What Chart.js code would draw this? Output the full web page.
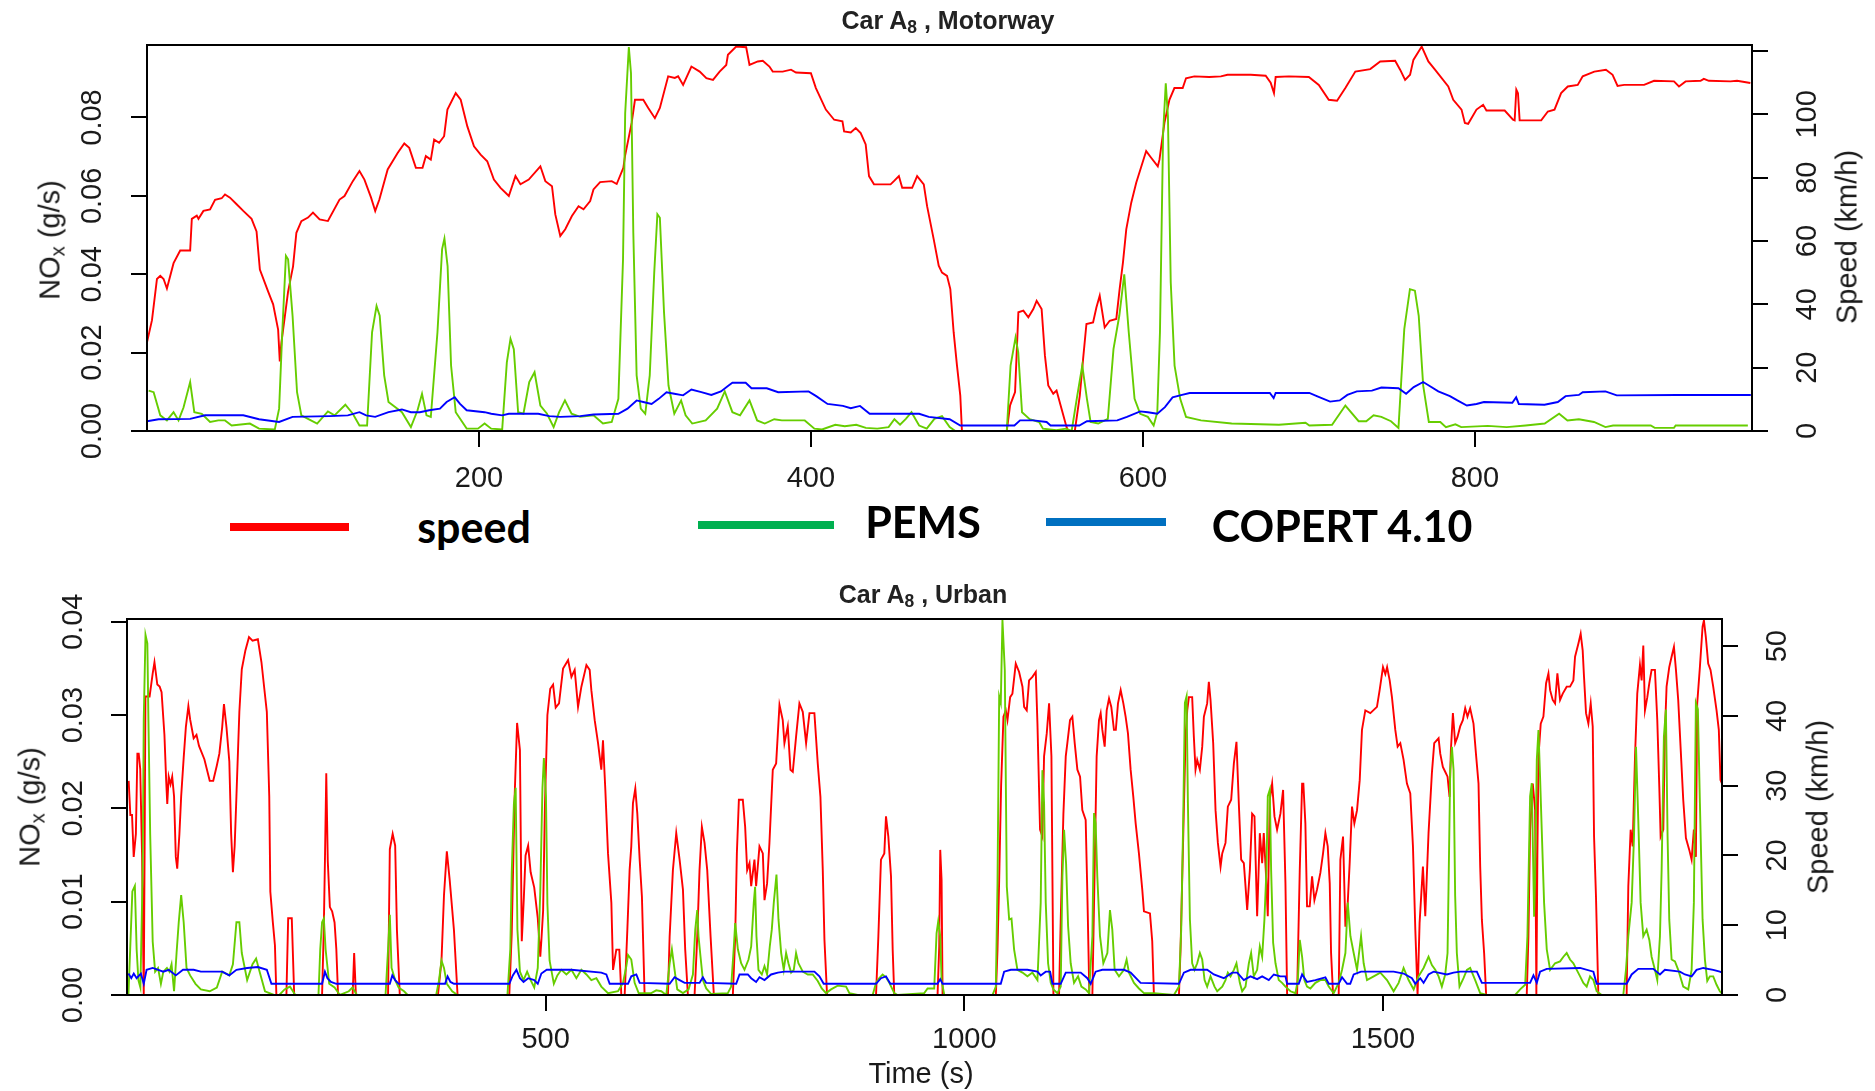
<!DOCTYPE html>
<html>
<head>
<meta charset="utf-8">
<script src="https://cdn.jsdelivr.net/npm/chart.js@4.4.0/dist/chart.umd.min.js"></script>
<style>
  body { margin: 0; background: #fff; width: 1875px; height: 1091px; overflow: hidden; position: relative; font-family: 'Liberation Sans', Arial, sans-serif; }
  canvas { position: absolute; left: 0; }
  #motorway { top: 0; }
  #urban { top: 560px; }
  .lbl { position: absolute; color: #1a1a1a; white-space: nowrap; line-height: 1; transform: translate(-50%, -50%); }
  .rot { transform: translate(-50%, -50%) rotate(-90deg); }
  .axis { font-size: 29px; }
  .title { font-size: 25px; font-weight: bold; color: #222; }
  sub { font-size: 0.7em; vertical-align: -0.25em; line-height: 0; }
  .key { position: absolute; height: 8px; }
  .keytext { position: absolute; font-family: Lato, sans-serif; font-weight: bold; font-size: 43px; line-height: 43px; color: #000; transform: translateX(-50%); }
</style>
</head>
<body>
<canvas id="motorway" width="1875" height="500"></canvas>
<canvas id="urban" width="1875" height="531"></canvas>

<div class="lbl title" style="left:948px;top:20px">Car A<sub>8</sub> , Motorway</div>
<div class="lbl axis rot" style="left:50px;top:240px">NO<sub>x</sub> (g/s)</div>
<div class="lbl axis rot" style="left:1847px;top:237px">Speed (km/h)</div>

<div class="key" style="left:230px;top:523px;width:119px;background:#ff0000"></div>
<div class="keytext" style="left:474px;top:505px">speed</div>
<div class="key" style="left:698px;top:521px;width:136px;background:#00b050"></div>
<div class="keytext" style="left:923px;top:500px">PEMS</div>
<div class="key" style="left:1046px;top:518px;width:120px;background:#0070c0"></div>
<div class="keytext" style="left:1342px;top:504px">COPERT 4.10</div>

<div class="lbl title" style="left:923px;top:594px">Car A<sub>8</sub> , Urban</div>
<div class="lbl axis rot" style="left:30px;top:807px">NO<sub>x</sub> (g/s)</div>
<div class="lbl axis rot" style="left:1818px;top:807px">Speed (km/h)</div>
<div class="lbl axis" style="left:921px;top:1073px">Time (s)</div>

<script>
// motorway trip: [time (s), value]
const motorwaySpeed = [[0,28],[3,35],[6,48],[8,49],[10,48],[12,45],[16,53],[20,57],[26,57],[27,67],[30,68],[31,67],[34,69.5],[38,70],[41,73],[45,73.5],[47,74.7],[50,73.7],[54,71.6],[58,69.5],[63,67],[66,63],[68,51],[73,44],[76,40],[79,32],[80,22],[81,28],[83,36],[85,44],[88,52],[90,62.6],[93,66.3],[97,67.4],[100,69],[104,66.8],[109,66.3],[116,73.1],[119,74.2],[124,78.9],[128,82.1],[131,79.4],[135,73.7],[137.5,69.5],[140,73.1],[145,82.6],[151,87.8],[155,90.8],[158,89.4],[162,83.1],[166,83.1],[168,86.8],[171,85.7],[173,92],[176,91],[179,93.1],[181,101.5],[186,106.7],[189,104.6],[193,96.2],[197,89.9],[201,87.3],[205,85.2],[209,79.4],[213,76.8],[218,74.2],[222,80.5],[225,77.9],[230,79.4],[237,83.6],[240,78.9],[244,77.3],[246,68.4],[249,61.6],[252,63.7],[256,67.9],[260,71],[263,70],[267,72.6],[269,76.3],[273,78.6],[280,78.9],[283,78],[287,83.1],[288,86.8],[292,97.3],[294,104.6],[299,104.6],[302,102],[306,98.8],[309,102],[314,112],[318,111.5],[320,112],[323,109.3],[328,115.1],[333,113.5],[337,111.4],[341,110.9],[345,113.5],[349,115.6],[350,118.8],[355,121.4],[361,121.2],[363,115.6],[368,116.7],[371,116.9],[375,115.1],[377,113.5],[383,113.5],[388,114.1],[391,113.2],[400,113],[403,108.3],[409,101.5],[414,98.3],[419,97.8],[420,94.6],[424,94.3],[427,95.7],[430,94.1],[433,90.5],[435,80.5],[438,77.9],[448,77.9],[450,78.9],[453,80.5],[455,76.8],[461,76.8],[464,80.5],[468,77.9],[470,71],[474,60.5],[477,52.2],[479,50],[482,49],[484,44.8],[486,31.2],[488,20.7],[490,11.2],[491,0],[518,0],[520,8.1],[523,12.3],[525,37.5],[528,38],[531,35.9],[534,38.5],[536,41.1],[539,38.5],[541,23.8],[543,14.4],[546,11.8],[548,12.8],[551,7],[554,1.3],[555,0],[559,0],[562,11.2],[564,22.8],[566,33.8],[570,34.3],[572,39],[574,42.7],[577,32.7],[580,34.8],[584,35.4],[586,44.8],[588,53.2],[590,63.7],[593,72.1],[596,78.4],[602,88.4],[605,86.3],[609,83.6],[610,85.7],[613,97.3],[616,104.6],[619,108.3],[624,108.3],[626,111.4],[631,112],[640,111.8],[647,112],[651,112.5],[665,112.5],[674,112.2],[677,110],[679,106.7],[680,111.8],[688,112],[700,111.8],[706,109.3],[712,104.6],[717,104.3],[722,108.3],[728,113.5],[737,114.3],[743,116.7],[752,116.9],[755,114.1],[758,110.9],[761,112.5],[763,117.2],[768,121.4],[772,116.7],[776,114.1],[784,108.8],[787,104.6],[792,101.5],[794,97.3],[796,97],[801,101.5],[805,103],[807,101.2],[818,101.2],[823,98.3],[824,98.1],[825,107.8],[826,106.7],[827,98.1],[840,98.1],[844,100.9],[848,101.5],[852,106.7],[856,108.8],[862,109.3],[865,112],[872,113.5],[879,114.1],[883,112.5],[886,109],[890,109.3],[902,109.3],[908,110.6],[920,110.4],[923,108.8],[927,110.4],[936,110.6],[938,111.2],[941,110.6],[954,110.4],[958,110.6],[966,109.9]];

const motorwayPems = [[1,0.0103],[4,0.0099],[8,0.004],[12,0.0027],[16,0.0048],[19,0.0027],[22,0.006],[26,0.0125],[28.5,0.0048],[33,0.0044],[38,0.0023],[43,0.0027],[47,0.0027],[51,0.0014],[62,0.0019],[67.5,0.0006],[77,0.0004],[79.6,0.0057],[81.5,0.0252],[83.7,0.0447],[85,0.0438],[87.7,0.0294],[90.4,0.0099],[93,0.004],[97,0.0031],[102.5,0.0019],[109,0.005],[113,0.004],[119.5,0.0067],[124,0.0044],[128,0.0014],[132.6,0.0014],[135.6,0.0252],[138.3,0.0319],[140.2,0.0294],[142.9,0.0142],[145.5,0.0074],[153.6,0.0048],[159,0.001],[163,0.0053],[165.7,0.0095],[168.4,0.004],[171,0.0036],[175,0.0252],[177.8,0.0464],[179.2,0.0491],[181.1,0.0421],[183.2,0.0167],[186,0.0048],[192.6,0.0006],[199.4,0.0006],[203.4,0.0019],[207.4,0.0006],[214,0.0004],[216.8,0.0175],[219,0.0235],[221,0.0209],[223.6,0.0048],[226.8,0.0044],[230.3,0.0125],[233.5,0.015],[237,0.0065],[241,0.0044],[245,0.001],[248.3,0.0048],[251.8,0.0078],[255.8,0.0044],[261,0.0036],[269,0.004],[274.7,0.0019],[280,0.0023],[284,0.0082],[286.8,0.0438],[288.1,0.0811],[290.3,0.098],[291.6,0.0913],[293,0.0506],[295,0.0142],[297.5,0.0057],[300.2,0.0044],[302.9,0.0142],[305.6,0.0404],[307.5,0.0553],[309,0.0544],[311.5,0.0303],[314.2,0.0116],[317.7,0.0044],[321.8,0.0078],[324.5,0.004],[328.5,0.0019],[336.6,0.0027],[343.5,0.0057],[348.1,0.0101],[352.7,0.0048],[357.3,0.004],[363,0.0078],[367.6,0.0027],[372.2,0.0019],[377.9,0.003],[382.5,0.0027],[396.3,0.0027],[402.1,0.0006],[406.7,0.0004],[414.7,0.0016],[420.4,0.0012],[427.3,0.0016],[433.1,0.0008],[440,0.0006],[446.8,0.001],[450.3,0.003],[453.7,0.0016],[457.2,0.0031],[460.6,0.0048],[465.2,0.0014],[469.8,0.0006],[474.4,0.0031],[479,0.0038],[483.6,0.001],[487,0],[518,0],[520.3,0.0167],[523.3,0.0239],[524.9,0.0201],[527.2,0.0048],[531.8,0.003],[537.5,0.0023],[539.8,0.0006],[547.9,0.0002],[553.6,0.0006],[557.1,0],[560.5,0.0091],[563.5,0.0167],[566.3,0.0082],[568.5,0.0023],[573.1,0.0019],[578.9,0.0031],[582.3,0.0209],[585.8,0.0294],[588.8,0.04],[591.5,0.0252],[595,0.0082],[598.4,0.0044],[603,0.0036],[606.5,0.0014],[608.7,0.0048],[610.3,0.0252],[612.2,0.076],[613.8,0.0887],[615.1,0.0803],[616.8,0.0379],[619.1,0.0167],[622.5,0.0082],[626,0.0036],[635,0.0027],[653.5,0.0019],[682,0.0016],[698,0.0021],[700.3,0.0014],[714,0.0016],[722,0.0065],[730,0.0025],[734.6,0.0025],[739,0.004],[743.7,0.0036],[749.5,0.0025],[754,0.0008],[757.5,0.026],[760.9,0.0362],[763.9,0.0358],[766.2,0.0294],[768.9,0.0116],[772.3,0.0023],[779.2,0.0023],[782.6,0.001],[788.3,0.0017],[791.8,0.001],[807.8,0.0013],[819.2,0.001],[830.6,0.0014],[842.1,0.0019],[850.8,0.0044],[855.8,0.0027],[862.7,0.003],[871.8,0.0023],[878.7,0.001],[883.3,0.0014],[906,0.0014],[908.4,0.0008],[920,0.0008],[921,0.0014],[964.5,0.0014]];

const motorwayCopert = [[0,0.0025],[7,0.003],[26,0.0031],[35,0.004],[58,0.004],[67.5,0.003],[79.6,0.0023],[87.7,0.0036],[110,0.0038],[121,0.004],[128,0.0048],[132,0.004],[137.5,0.0036],[145.5,0.0048],[153.6,0.0055],[159,0.0048],[164.4,0.0048],[170,0.0053],[176.5,0.0057],[180.5,0.0074],[185.4,0.0086],[188.6,0.0069],[192.6,0.0053],[203.4,0.0048],[207.4,0.0044],[214,0.004],[218,0.0044],[235.7,0.0044],[242.4,0.0038],[249,0.0036],[261,0.0038],[269,0.0042],[284,0.0044],[289.5,0.0057],[295,0.0078],[299,0.0074],[304,0.0069],[308.3,0.0082],[313,0.0099],[317.7,0.0095],[323,0.0091],[328,0.0106],[334,0.0099],[340,0.0092],[345.8,0.0101],[350.4,0.0116],[352.7,0.0123],[360.7,0.0123],[364.2,0.0109],[373.4,0.0109],[380.3,0.0099],[398.6,0.0101],[403.2,0.0089],[410,0.0069],[419.3,0.0064],[424,0.0058],[429.6,0.0064],[435.4,0.0044],[465.2,0.0044],[471,0.0036],[483.6,0.003],[490,0.0014],[522.6,0.0014],[526,0.0027],[534,0.0027],[542,0.0023],[544.4,0.0014],[561.7,0.0014],[566.3,0.0025],[584.6,0.0027],[590.4,0.0036],[598.4,0.005],[603,0.0048],[608.7,0.0044],[613.3,0.0061],[617.9,0.0086],[623.6,0.0092],[628.2,0.0097],[676.5,0.0097],[678.8,0.0084],[680,0.0097],[700.3,0.0097],[704.8,0.0089],[712.8,0.0075],[718.6,0.0078],[723.2,0.0092],[728.9,0.0101],[738,0.0103],[743.7,0.0111],[754,0.0109],[758.6,0.0095],[763.2,0.0112],[768.9,0.0125],[772.3,0.0116],[778,0.0101],[785,0.0089],[789.5,0.0078],[795.2,0.0065],[801,0.0069],[805.5,0.0074],[822.6,0.0072],[824.9,0.0086],[826.5,0.0069],[842,0.0067],[850,0.0074],[854.7,0.0089],[862.7,0.0092],[865,0.0099],[878.7,0.0101],[885.5,0.0091],[922,0.0092],[966.3,0.0092]];

// urban trip: [time (s), value]
const urbanSpeed = [[2,30.7],[4,25.8],[6,25.8],[8,19.8],[10.6,23.1],[12.4,34.6],[14,34.6],[15.8,32.4],[18,20],[20,0],[21,20],[22,42.8],[27,42.8],[30.7,46.1],[32.8,47.7],[36.2,44.5],[39,44.2],[41.3,43.4],[44.7,37.3],[46.8,30.7],[48.1,27.4],[49.8,31.3],[52,30.2],[54,31.3],[56.2,28.5],[58.3,19.8],[60,18.1],[62.6,23.1],[64.7,28.5],[67.7,34],[70.3,38.4],[73.3,41.4],[75.4,39.5],[79.6,36.8],[83,37.3],[86,35.7],[92.4,33.8],[98.8,30.7],[103,30.7],[107.3,32.9],[110.3,34.6],[113.7,38.4],[115.8,41.7],[118.8,38.4],[122.2,33.5],[124.4,23.1],[126.5,17.6],[128.6,21.4],[130.7,28.5],[134.2,40.6],[137.1,46.7],[141.4,49.4],[145.7,51.3],[149.9,50.8],[156.3,51],[160.6,47.7],[164,43.9],[167,40.6],[169.9,28.5],[171.2,14.8],[174.2,10.4],[176.7,7.1],[178.4,0],[190.4,0],[192.5,11],[196.8,11],[199.7,0],[233,0],[235,9.3],[236.4,19.2],[238,31.8],[239.8,19.2],[242.3,12.6],[245,12],[247.9,10.4],[250,6.6],[252.1,0],[269.5,0],[271.3,6],[273.4,0],[311.8,0],[313.9,20.9],[317.3,23.1],[320.3,21.4],[322.4,9.3],[325.8,0],[371.4,0],[375.6,4.9],[378.6,14.3],[382,20.6],[385.4,16.5],[390.5,9.3],[394.8,0],[456.6,0],[459.5,8.8],[463,28.5],[465.9,39],[469.3,35.1],[471.5,7.7],[474,14],[476,20],[479.1,21.4],[482.1,17.6],[486.4,15.4],[490.6,11],[493.6,5.5],[495,8],[497,12.1],[499.1,26.9],[502.1,40.1],[505.5,43.9],[508.9,44.5],[512,41.2],[516,41.8],[520.8,46.8],[526.8,48],[530.8,45.6],[534.7,46.6],[538.7,41.3],[542.7,44.2],[548.7,47.3],[552.6,46.6],[554.6,43.7],[558.6,39.4],[562.6,36.1],[566.5,32.3],[568.5,36.5],[571.3,29.4],[574.5,20.3],[578.5,13.2],[580.5,3.6],[584.4,6.5],[588,6.5],[590.4,0],[594.4,0],[597.6,9.4],[600.3,17.9],[602.3,21.3],[604.3,27.5],[607.1,29.6],[609.5,26],[612.3,19.4],[615,14.1],[618.2,0],[646.1,0],[648.1,8.4],[652,17.9],[656,23.2],[660,19.4],[664,15.1],[666.7,6.5],[669.9,0],[677.9,0],[681.1,8.4],[683.8,17.9],[686.6,24.1],[689.8,21.8],[693,17.9],[697,8.4],[700.9,0],[723.6,0],[726.4,8.4],[728.4,20.3],[730.8,28],[735.5,28],[738.3,24.1],[740.7,17.9],[743.5,18.9],[745.5,15.6],[749.4,19.4],[751.4,15.6],[755.4,21.3],[759.4,20.3],[761.4,13.6],[764.5,16],[767.3,21.8],[771.3,32.3],[775.3,33.2],[779.3,41.6],[783.2,39.4],[785.2,36.1],[789.2,38.5],[792.4,32.3],[795.2,32],[799.1,37],[803.1,41.8],[807.1,40.6],[811.1,36.1],[815.1,40.4],[821,40.4],[825,33.2],[828.2,28.4],[831,17.9],[833,7.9],[836.1,0],[894.6,0],[897.4,8.4],[900.5,19.4],[904.5,20.3],[906.5,25.6],[909.3,22.7],[912.5,17],[914.5,6.5],[916.4,0],[968.1,0],[970.1,7],[971.3,20.8],[972.9,16.5],[974.1,0],[1037.7,0],[1039.7,6.5],[1041.7,16.5],[1044,30],[1046.8,39.9],[1049.6,40.8],[1051.6,39.4],[1054.8,42.7],[1057.5,43.2],[1061.5,47.5],[1065.5,46.3],[1069.5,44.2],[1071.5,41.3],[1074.6,40.8],[1077.4,45.1],[1081.4,45.6],[1085.4,46.3],[1087.4,38.9],[1090.5,23.7],[1093.3,22.7],[1095.3,34.2],[1098.5,37.5],[1101.3,41.8],[1104.1,34.2],[1106.5,0],[1113.2,0],[1115.2,10.8],[1118.4,26],[1121.2,34.2],[1123.1,36.1],[1126.3,39.4],[1129.1,39.9],[1131.9,36.1],[1135.1,32.3],[1138.3,31.3],[1141,26.5],[1145,25.1],[1147,14.6],[1149.4,0],[1153,0],[1155,13.2],[1158.1,34.2],[1160.9,39.4],[1162.9,40.4],[1164.9,38],[1167.7,35.6],[1170.1,40.8],[1172.9,42.5],[1175.6,41.3],[1178.8,38],[1181,38],[1183.6,41.8],[1186.8,43.7],[1190,41.8],[1192.7,39.9],[1195.5,37.5],[1198.7,32.3],[1201.9,28.4],[1204.7,24.6],[1208.6,20.3],[1212.6,15.1],[1214.6,12],[1221.8,11.7],[1224.5,7.7],[1226.5,0],[1256.4,0],[1258.3,6.5],[1261.5,22.7],[1264.3,37],[1266.3,40.8],[1268.3,42.7],[1272.2,42.7],[1274.2,37],[1276.2,32.3],[1278.2,33.7],[1281.4,32.3],[1284.2,35.6],[1286.2,39.9],[1290.1,41.8],[1292.1,44.9],[1294.1,42.3],[1297.3,36.1],[1300.1,26.5],[1302.9,21.8],[1306.1,18.4],[1308.1,20.3],[1312,21.8],[1314.8,27],[1318.8,28],[1322,33.2],[1325.1,36.3],[1327.9,27.5],[1330.7,19.4],[1333.9,18.9],[1335.9,15.6],[1337.9,12.2],[1341.1,17.9],[1343.8,26],[1346.6,25.6],[1349.8,11.3],[1353,23.2],[1355.8,18.9],[1357.7,23.2],[1360.1,17.9],[1362.5,11.3],[1364.9,28],[1367.7,30.3],[1370.5,25.6],[1373.6,23.7],[1377.6,26],[1380.8,29.4],[1383.6,16],[1385.6,0],[1397.5,0],[1400.7,17.9],[1403.5,30.3],[1405,30.3],[1407.4,24.6],[1409.4,12.7],[1412.6,12.7],[1415.4,17],[1418.2,13.6],[1421.3,15.1],[1425.3,17.5],[1428.5,20.3],[1431.3,23.2],[1434.1,21.3],[1436.5,16],[1438.1,6],[1440.5,0],[1447.2,0],[1449.2,19.4],[1452.4,22.7],[1455.2,9.8],[1458,13.2],[1460.3,18.9],[1463.1,27],[1465.9,24.6],[1469.1,26.5],[1472.3,30.8],[1475,38],[1479,40.8],[1485,40.4],[1492.9,41.3],[1496.1,43.7],[1500.1,47],[1502.9,46],[1505,47],[1508.1,45.1],[1510.8,42.7],[1514.8,38],[1517.6,35.6],[1520.8,36.1],[1524.7,33.7],[1528.7,30.3],[1532.7,28.9],[1535.9,21.3],[1538.7,9.4],[1541.4,0],[1543.8,10.3],[1547.8,18.4],[1550.6,11.3],[1552.6,17.5],[1554.5,23.2],[1558.5,31.8],[1561.3,36.1],[1566.5,36.8],[1568.5,34.6],[1571.6,32.7],[1574.4,32],[1577.2,31.3],[1579.6,28.4],[1581.2,35.1],[1583.6,40.4],[1586.3,36.1],[1589.1,37],[1592.3,38.5],[1595.5,39.4],[1598.3,41.1],[1601,39.9],[1604.2,41.1],[1608.2,38.9],[1611.4,34.2],[1614.2,30.3],[1616.2,18.4],[1618.2,10.8],[1620.9,6],[1623.3,0],[1671.8,0],[1673.8,8.4],[1675.8,23.7],[1679,30.3],[1681.8,26.5],[1683.3,0],[1684.5,20],[1685.8,34.2],[1688.5,38.9],[1691.7,39.9],[1694.9,44.7],[1697.7,46.1],[1699.7,43.7],[1702.8,42.3],[1705.6,41.8],[1708.4,46.1],[1711.6,42.3],[1714.8,43.2],[1719.5,44.2],[1723.5,44.2],[1727.5,45.1],[1729.5,48.5],[1733.5,50.4],[1736.2,51.8],[1738.6,49.4],[1740.2,45.6],[1742.6,40.4],[1745.4,38.9],[1748.2,41.8],[1750.6,38.5],[1752.2,22.7],[1754.5,14.1],[1757.3,0],[1791.1,0],[1793.1,15.6],[1795.9,23.7],[1798.3,21.3],[1801.1,34.2],[1803.8,43.2],[1807,47.3],[1809,45.1],[1811,50.1],[1813,40.8],[1815.8,42.7],[1818.2,44.7],[1820.9,46.6],[1824.9,46.6],[1827.7,39.4],[1830.1,29.9],[1831.7,22.7],[1834.9,23.7],[1836.8,37.5],[1838.8,44.2],[1842,47],[1844.8,48.5],[1847.6,49.9],[1850,46.6],[1852.7,42.3],[1855.5,35.6],[1858.7,28],[1861.9,22.5],[1865.9,20.8],[1868.7,19.4],[1871.4,23.7],[1873.8,19.8],[1875.4,41.8],[1878.6,47],[1881.8,52.8],[1883.4,53.7],[1885.7,51.3],[1888.5,47.5],[1891.3,46.6],[1894.5,44.2],[1898.5,40.8],[1901.2,38],[1903.2,30.8],[1905,30.3]];

const urbanPems = [[1.7,0],[3.8,0.0049],[6.4,0.0111],[9.4,0.0117],[11.5,0.0049],[13.6,0.0016],[16,0.0008],[18.7,0.0131],[20,0.0295],[22.1,0.0386],[24.3,0.0377],[25.6,0.0295],[27.7,0.0172],[30.7,0.0057],[33.6,0.0025],[37.1,0.0029],[40.5,0.0012],[43.4,0.0025],[47.7,0.0029],[50.7,0.0025],[53.2,0.0033],[56.2,0.0004],[59.2,0.0045],[61.8,0.0078],[64.7,0.0107],[67.7,0.0078],[71.1,0.0029],[75.4,0.0021],[81.8,0.0012],[88.2,0.0006],[98.8,0.0004],[107.3,0.0008],[113.7,0.0025],[122.2,0.0021],[126.5,0.0033],[130.7,0.0078],[134.2,0.0078],[137.1,0.0045],[143.5,0.0016],[149.9,0.0033],[154.2,0.0039],[158.4,0.0025],[164.8,0.0004],[175.5,0],[181.9,0],[188.2,0.0006],[194.6,0.0009],[201,0],[228.7,0],[230.8,0.0049],[233,0.0078],[235.1,0.0082],[237.2,0.0049],[241.5,0.0012],[247.9,0.0008],[254.3,0],[264.9,0.0004],[269.2,0.0008],[274.7,0],[308.8,0],[311.8,0.0049],[313.9,0.0086],[316,0.0029],[320.3,0.0016],[324.5,0.0008],[330.9,0.0004],[335.2,0],[369.3,0],[372.7,0.0016],[375.6,0.0037],[378.6,0.0029],[382,0.0012],[388.4,0.0004],[394.8,0],[454.4,0],[457.8,0.0049],[459.5,0.0131],[462.1,0.0205],[464.2,0.0222],[466.3,0.007],[469.3,0.0025],[473.6,0.0016],[477.9,0.0025],[482.1,0.0016],[486.4,0.0008],[490.6,0.0029],[493.6,0.0111],[496.2,0.0222],[497.9,0.0254],[500.4,0.0213],[502.1,0.0098],[504.7,0.0037],[509.8,0.0012],[514,0.0021],[518.8,0.0027],[524.8,0.0022],[530.8,0.0027],[536.7,0.0018],[542.7,0.0027],[548.7,0.0022],[554.6,0.0016],[560.6,0.0018],[566.5,0.0009],[574.5,0.0002],[586.4,0.0004],[592.4,0.0013],[596.4,0.0031],[598.4,0.0043],[602.3,0.0038],[606.3,0.0013],[611.1,0.0002],[626.2,0.0002],[632.1,0.0005],[638.1,0.0004],[644.1,0],[648.1,0.0034],[650.8,0.0049],[654,0.0027],[657.2,0.0006],[664,0.0002],[670.7,0.0006],[675.9,0.0022],[678.7,0.007],[681.1,0.0091],[682.6,0.0063],[685,0.0041],[687.8,0.0016],[691.8,0.0007],[697.8,0.0001],[717.6,0.0002],[721.6,0.0009],[724.8,0.0052],[726.4,0.0077],[729.6,0.0049],[733.5,0.0034],[737.5,0.0027],[742.3,0.0038],[745.5,0.0052],[748.6,0.0099],[750.2,0.0116],[751.8,0.0063],[754.2,0.0027],[758.2,0.0022],[761.4,0.0031],[764.5,0.0022],[767.7,0.0052],[770.1,0.007],[772.5,0.0099],[775.7,0.0129],[778.1,0.0081],[781.3,0.0045],[784.4,0.0027],[787.2,0.0045],[790,0.0034],[793.2,0.0024],[796.4,0.0027],[799.1,0.0045],[801.9,0.0034],[807.1,0.0025],[813.1,0.0022],[819,0.0022],[825,0.0015],[829.8,0.0007],[834.9,0.0002],[840.9,0.0006],[848.8,0.001],[858.8,0.0009],[862.8,0.0002],[872.7,0],[890.6,0],[894.6,0.0013],[898.5,0.0018],[902.5,0.0022],[906.5,0.0019],[910.5,0.0013],[916.4,0.0002],[920.4,0],[952.2,0.0002],[956.2,0.0007],[964.1,0.0007],[966.9,0.0066],[968.9,0.0079],[971.3,0.0063],[972.9,0.0016],[976.1,0],[1033.7,0],[1037.7,0.0009],[1039.7,0.012],[1041.7,0.032],[1043.6,0.0313],[1045.6,0.0402],[1048.4,0.0348],[1050.8,0.0116],[1053.6,0.0081],[1056.4,0.0082],[1059.5,0.0049],[1063.5,0.0027],[1069.5,0.0024],[1075.4,0.002],[1081.4,0.0024],[1087.4,0.0016],[1091.3,0.0099],[1093.3,0.0241],[1095.3,0.0206],[1097.3,0.0099],[1100.1,0.0034],[1103.3,0.0013],[1106.5,0.0006],[1111.2,0.0002],[1115.2,0.0009],[1117.2,0.0127],[1119.2,0.0177],[1121.6,0.0141],[1124,0.0074],[1127.1,0.0034],[1131.1,0.0013],[1135.9,0.002],[1139.9,0.0009],[1145,0.0006],[1149,0.0002],[1153,0.0063],[1155,0.0195],[1156.9,0.0184],[1158.9,0.0127],[1162.1,0.0063],[1166.1,0.0034],[1170.9,0.0045],[1174,0.0091],[1176.8,0.007],[1179.6,0.0027],[1184.8,0.002],[1190.7,0.0027],[1193.9,0.0038],[1196.7,0.0024],[1202.7,0.0013],[1208.6,0.0007],[1214.6,0.0002],[1226.5,0.0002],[1250.4,0],[1256.4,0.0009],[1259.1,0.007],[1261.5,0.0188],[1263.5,0.0313],[1265.5,0.032],[1267.1,0.0206],[1269.5,0.0081],[1272.2,0.0034],[1275,0.0027],[1278.2,0.0034],[1281.4,0.0045],[1284.2,0.0038],[1287,0.0016],[1290.1,0.0009],[1294.1,0.002],[1298.9,0.0009],[1302.1,0.0004],[1308.1,0.0009],[1312,0.0016],[1314.8,0.0024],[1318,0.002],[1322,0.0027],[1325.1,0.0034],[1329.1,0.0013],[1331.9,0.0004],[1335.9,0.0009],[1339.9,0.0034],[1342.6,0.0045],[1345.8,0.002],[1349.8,0.0027],[1353,0.0052],[1355.8,0.0041],[1358.5,0.0081],[1360.9,0.0134],[1362.5,0.0213],[1364.9,0.022],[1366.5,0.0134],[1368.9,0.0056],[1371.7,0.0034],[1375.6,0.0016],[1379.6,0.0013],[1383.6,0.0009],[1389.6,0.0004],[1395.5,0.0002],[1398.4,0.0016],[1400.7,0.0059],[1403.5,0.0041],[1406.2,0.0016],[1409.4,0.0009],[1413.4,0.0007],[1419.4,0.0013],[1425.3,0.0016],[1431.3,0.0016],[1435.3,0.0009],[1441.2,0.0002],[1447.2,0.0013],[1451.2,0.0027],[1455.2,0.0045],[1458,0.0099],[1461.2,0.0063],[1465.1,0.0045],[1469.1,0.0027],[1473.9,0.0063],[1477,0.0034],[1481,0.0016],[1489,0.002],[1496.9,0.0024],[1504.9,0.0016],[1512.8,0.0004],[1518.8,0.0013],[1524.7,0.0029],[1530.7,0.0016],[1536.7,0.0006],[1542.6,0.002],[1548.6,0.0029],[1554.5,0.0041],[1558.5,0.0032],[1562.5,0.0027],[1566.5,0.002],[1570.4,0.0009],[1574.4,0.0022],[1577.2,0.0045],[1578.4,0.0116],[1580.4,0.0241],[1582.4,0.0266],[1584.4,0.0241],[1586.3,0.0106],[1588.3,0.0045],[1591.5,0.0009],[1596.3,0.0018],[1600.3,0.0027],[1604.2,0.0029],[1610.2,0.0016],[1616.2,0.0002],[1624.1,0],[1657.9,0],[1663.9,0.0006],[1669.9,0.0011],[1672.6,0.0063],[1675.8,0.0213],[1677.8,0.0227],[1680.6,0.0084],[1681.8,0.0124],[1683.8,0.0252],[1685.8,0.0284],[1687.7,0.0234],[1689.7,0.0177],[1692.5,0.0099],[1695.7,0.0049],[1699.7,0.0027],[1705.6,0.0034],[1711.6,0.0036],[1715.6,0.0041],[1719.5,0.0045],[1723.5,0.0038],[1727.5,0.0034],[1731.5,0.0027],[1735.5,0.002],[1739.4,0.0013],[1743.4,0.0009],[1747.4,0.002],[1751.4,0.0016],[1755.3,0.0004],[1761.3,0],[1787.1,0],[1790.3,0.0027],[1793.1,0.0063],[1797.1,0.0099],[1799.9,0.017],[1802.3,0.0266],[1805,0.0188],[1807.8,0.0099],[1811,0.0063],[1815,0.007],[1818.2,0.0059],[1820.9,0.0041],[1824.9,0.0027],[1827.7,0.0016],[1830.9,0.0063],[1832.9,0.0134],[1835.6,0.0277],[1838,0.0306],[1840,0.017],[1842,0.0081],[1844.8,0.0038],[1848.8,0.0036],[1852.7,0.0027],[1858.7,0.0009],[1864.7,0.0006],[1868.7,0.0027],[1871.4,0.0099],[1873.8,0.0313],[1876.2,0.0306],[1878.6,0.0206],[1881.8,0.0081],[1884.6,0.0038],[1887.4,0.0015],[1890.5,0.002],[1894.5,0.002],[1898.5,0.0011],[1902.4,0.0004],[1904.4,0.0002]];

const urbanCopert = [[1.7,0.0023],[5.1,0.0018],[8.1,0.0023],[11.5,0.0018],[16.6,0.0023],[20,0.0012],[23.4,0.0027],[30.7,0.0029],[43.4,0.0025],[49.8,0.0027],[58.3,0.0021],[66.9,0.0027],[79.6,0.0027],[88.2,0.0025],[113.7,0.0025],[122.2,0.0021],[130.7,0.0027],[143.5,0.0029],[156.3,0.003],[167,0.0027],[172.5,0.0012],[233,0.0012],[236.4,0.0025],[239.4,0.0018],[243.6,0.0014],[250,0.0012],[313.9,0.0012],[316.9,0.0021],[320.3,0.0016],[324.5,0.0012],[379.9,0.0012],[382.9,0.002],[386.3,0.0014],[390.5,0.0012],[456.6,0.0012],[460.8,0.0021],[465.1,0.0027],[469.3,0.0018],[473.6,0.0014],[479.1,0.0018],[486.4,0.0016],[490.6,0.0012],[494.9,0.0023],[501.3,0.0027],[530.8,0.0027],[566.5,0.0024],[572.5,0.0022],[576.5,0.0012],[598.4,0.0012],[602.3,0.002],[608.3,0.0022],[612.3,0.0013],[648.1,0.0012],[654,0.0019],[660,0.0016],[666,0.0013],[683.8,0.0013],[687.8,0.0019],[691.8,0.0013],[727.6,0.0012],[731.6,0.0022],[741.5,0.0022],[745.5,0.0018],[751.4,0.0014],[755.4,0.0019],[761.4,0.0016],[769.3,0.0022],[777.3,0.0024],[785.2,0.0025],[821,0.0025],[827,0.002],[832.1,0.0012],[894.6,0.0012],[900.5,0.0018],[906.5,0.002],[911.7,0.0012],[968.1,0.0012],[971.3,0.0017],[974.1,0.0012],[1043.6,0.0012],[1047.6,0.0025],[1055.6,0.0027],[1075.4,0.0027],[1087.4,0.0025],[1091.3,0.0021],[1097.3,0.0025],[1102.5,0.0025],[1105.3,0.0012],[1115.2,0.0012],[1121.2,0.0024],[1139.1,0.0024],[1147,0.0018],[1151,0.0012],[1156.9,0.0025],[1164.9,0.0027],[1190.7,0.0027],[1198.7,0.0024],[1210.6,0.0013],[1256.4,0.0012],[1262.3,0.0024],[1270.3,0.0027],[1290.1,0.0027],[1298.1,0.0022],[1310,0.0018],[1320,0.0024],[1326,0.0024],[1333.9,0.0016],[1341.8,0.002],[1349.8,0.0017],[1355.8,0.002],[1363.7,0.0016],[1369.7,0.0022],[1377.6,0.002],[1383.6,0.002],[1385.6,0.0012],[1399.5,0.0012],[1403.5,0.0022],[1409.4,0.0014],[1419.4,0.0016],[1431.3,0.0019],[1435.3,0.0012],[1447.2,0.0012],[1451.2,0.0019],[1457.2,0.0012],[1461,0.0012],[1465.1,0.0022],[1473.9,0.0025],[1512.8,0.0025],[1524.7,0.0023],[1534.7,0.0018],[1538.7,0.0012],[1544.6,0.0018],[1548.6,0.0013],[1554.5,0.0022],[1560.5,0.0025],[1576.4,0.0022],[1584.4,0.0024],[1592.3,0.0025],[1612.2,0.0025],[1618.2,0.0013],[1675.8,0.0013],[1679.8,0.0021],[1683.8,0.0013],[1687.7,0.0025],[1695.7,0.0028],[1735.5,0.0029],[1751.4,0.0025],[1755.3,0.0012],[1791.1,0.0012],[1797.1,0.0022],[1805,0.0028],[1822.9,0.0028],[1830.9,0.0022],[1836.8,0.0027],[1854.7,0.0025],[1860.7,0.0022],[1868.7,0.002],[1874.6,0.0027],[1882.6,0.0029],[1894.5,0.0027],[1902.4,0.0025],[1905.2,0.0024]];

// axis ranges and ticks
const motorwayTimeTicks = [200, 400, 600, 800];
const motorwayNoxTicks = [0, 0.02, 0.04, 0.06, 0.08];
const motorwaySpeedTicks = [0, 20, 40, 60, 80, 100, 120];
const urbanTimeTicks = [500, 1000, 1500];
const urbanNoxTicks = [0, 0.01, 0.02, 0.03, 0.04];
const urbanSpeedTicks = [0, 10, 20, 30, 40, 50];

const toXY = arr => arr.map(([x, y]) => ({ x, y }))

const frame = {
  id: 'frame',
  afterDatasetsDraw(chart) {
    const { ctx, chartArea: a } = chart
    ctx.save()
    ctx.strokeStyle = '#000'
    ctx.lineWidth = 2
    ctx.strokeRect(a.left, a.top, a.right - a.left, a.bottom - a.top)
    ctx.restore()
  }
}

const tickFont = { family: "'Liberation Sans', Arial, sans-serif", size: 29 }
const tickGrid = { display: true, drawOnChartArea: false, drawTicks: true, tickLength: 16, color: '#000', lineWidth: 2 }
const setTicks = list => s => { s.ticks = list.map(v => ({ value: v })) }

const drawPanel = function (id, p) {
  return new Chart(document.getElementById(id), {
    type: 'line',
    data: {
      datasets: [
        { label: 'COPERT 4.10', data: toXY(p.copert), borderColor: '#0000ff', yAxisID: 'y', order: 1 },
        { label: 'PEMS', data: toXY(p.pems), borderColor: '#66cd00', yAxisID: 'y', order: 2 },
        { label: 'speed', data: toXY(p.speed), borderColor: '#ff0000', yAxisID: 'y1', order: 3 },
      ],
    },
    options: {
      responsive: false,
      animation: false,
      devicePixelRatio: 1,
      layout: { padding: { top: p.padTop, left: 0, right: 0, bottom: 0 } },
      elements: { point: { radius: 0 }, line: { borderWidth: 1.9, tension: 0, fill: false } },
      plugins: { legend: { display: false }, tooltip: { enabled: false } },
      scales: {
        x: {
          type: 'linear', min: 0, max: p.timeMax,
          border: { display: false }, grid: tickGrid,
          ticks: { font: tickFont, color: '#1a1a1a', padding: p.xPad, maxRotation: 0, callback: v => String(v) },
          afterBuildTicks: setTicks(p.timeTicks),
          afterFit: s => { s.height = p.xHeight },
        },
        y: {
          position: 'left', min: 0, max: p.noxMax,
          border: { display: false }, grid: tickGrid,
          ticks: { font: tickFont, color: '#1a1a1a', minRotation: 90, maxRotation: 90, crossAlign: 'center', padding: p.leftPad, callback: v => v.toFixed(2) },
          afterBuildTicks: setTicks(p.noxTicks),
          afterFit: s => { s.width = p.leftWidth },
        },
        y1: {
          position: 'right', min: 0, max: p.speedMax,
          border: { display: false }, grid: tickGrid,
          ticks: { font: tickFont, color: '#1a1a1a', minRotation: 90, maxRotation: 90, crossAlign: 'center', padding: p.rightPad, callback: v => (v === 120 ? '' : String(v)) },
          afterBuildTicks: setTicks(p.speedTicks),
          afterFit: s => { s.width = p.rightWidth },
        },
      },
    },
    plugins: [frame],
  })
}

drawPanel('motorway', {
  speed: motorwaySpeed, pems: motorwayPems, copert: motorwayCopert,
  timeMax: 967, noxMax: 0.0985, speedMax: 121.9,
  timeTicks: motorwayTimeTicks, noxTicks: motorwayNoxTicks, speedTicks: motorwaySpeedTicks,
  padTop: 45, xHeight: 69, leftWidth: 147, rightWidth: 123,
  xPad: 15, leftPad: 10, rightPad: 16,
})

drawPanel('urban', {
  speed: urbanSpeed, pems: urbanPems, copert: urbanCopert,
  timeMax: 1905, noxMax: 0.0403, speedMax: 53.9,
  timeTicks: urbanTimeTicks, noxTicks: urbanNoxTicks, speedTicks: urbanSpeedTicks,
  padTop: 59, xHeight: 96, leftWidth: 127, rightWidth: 153,
  xPad: 12, leftPad: 9, rightPad: 24,
})
</script>
</body>
</html>
